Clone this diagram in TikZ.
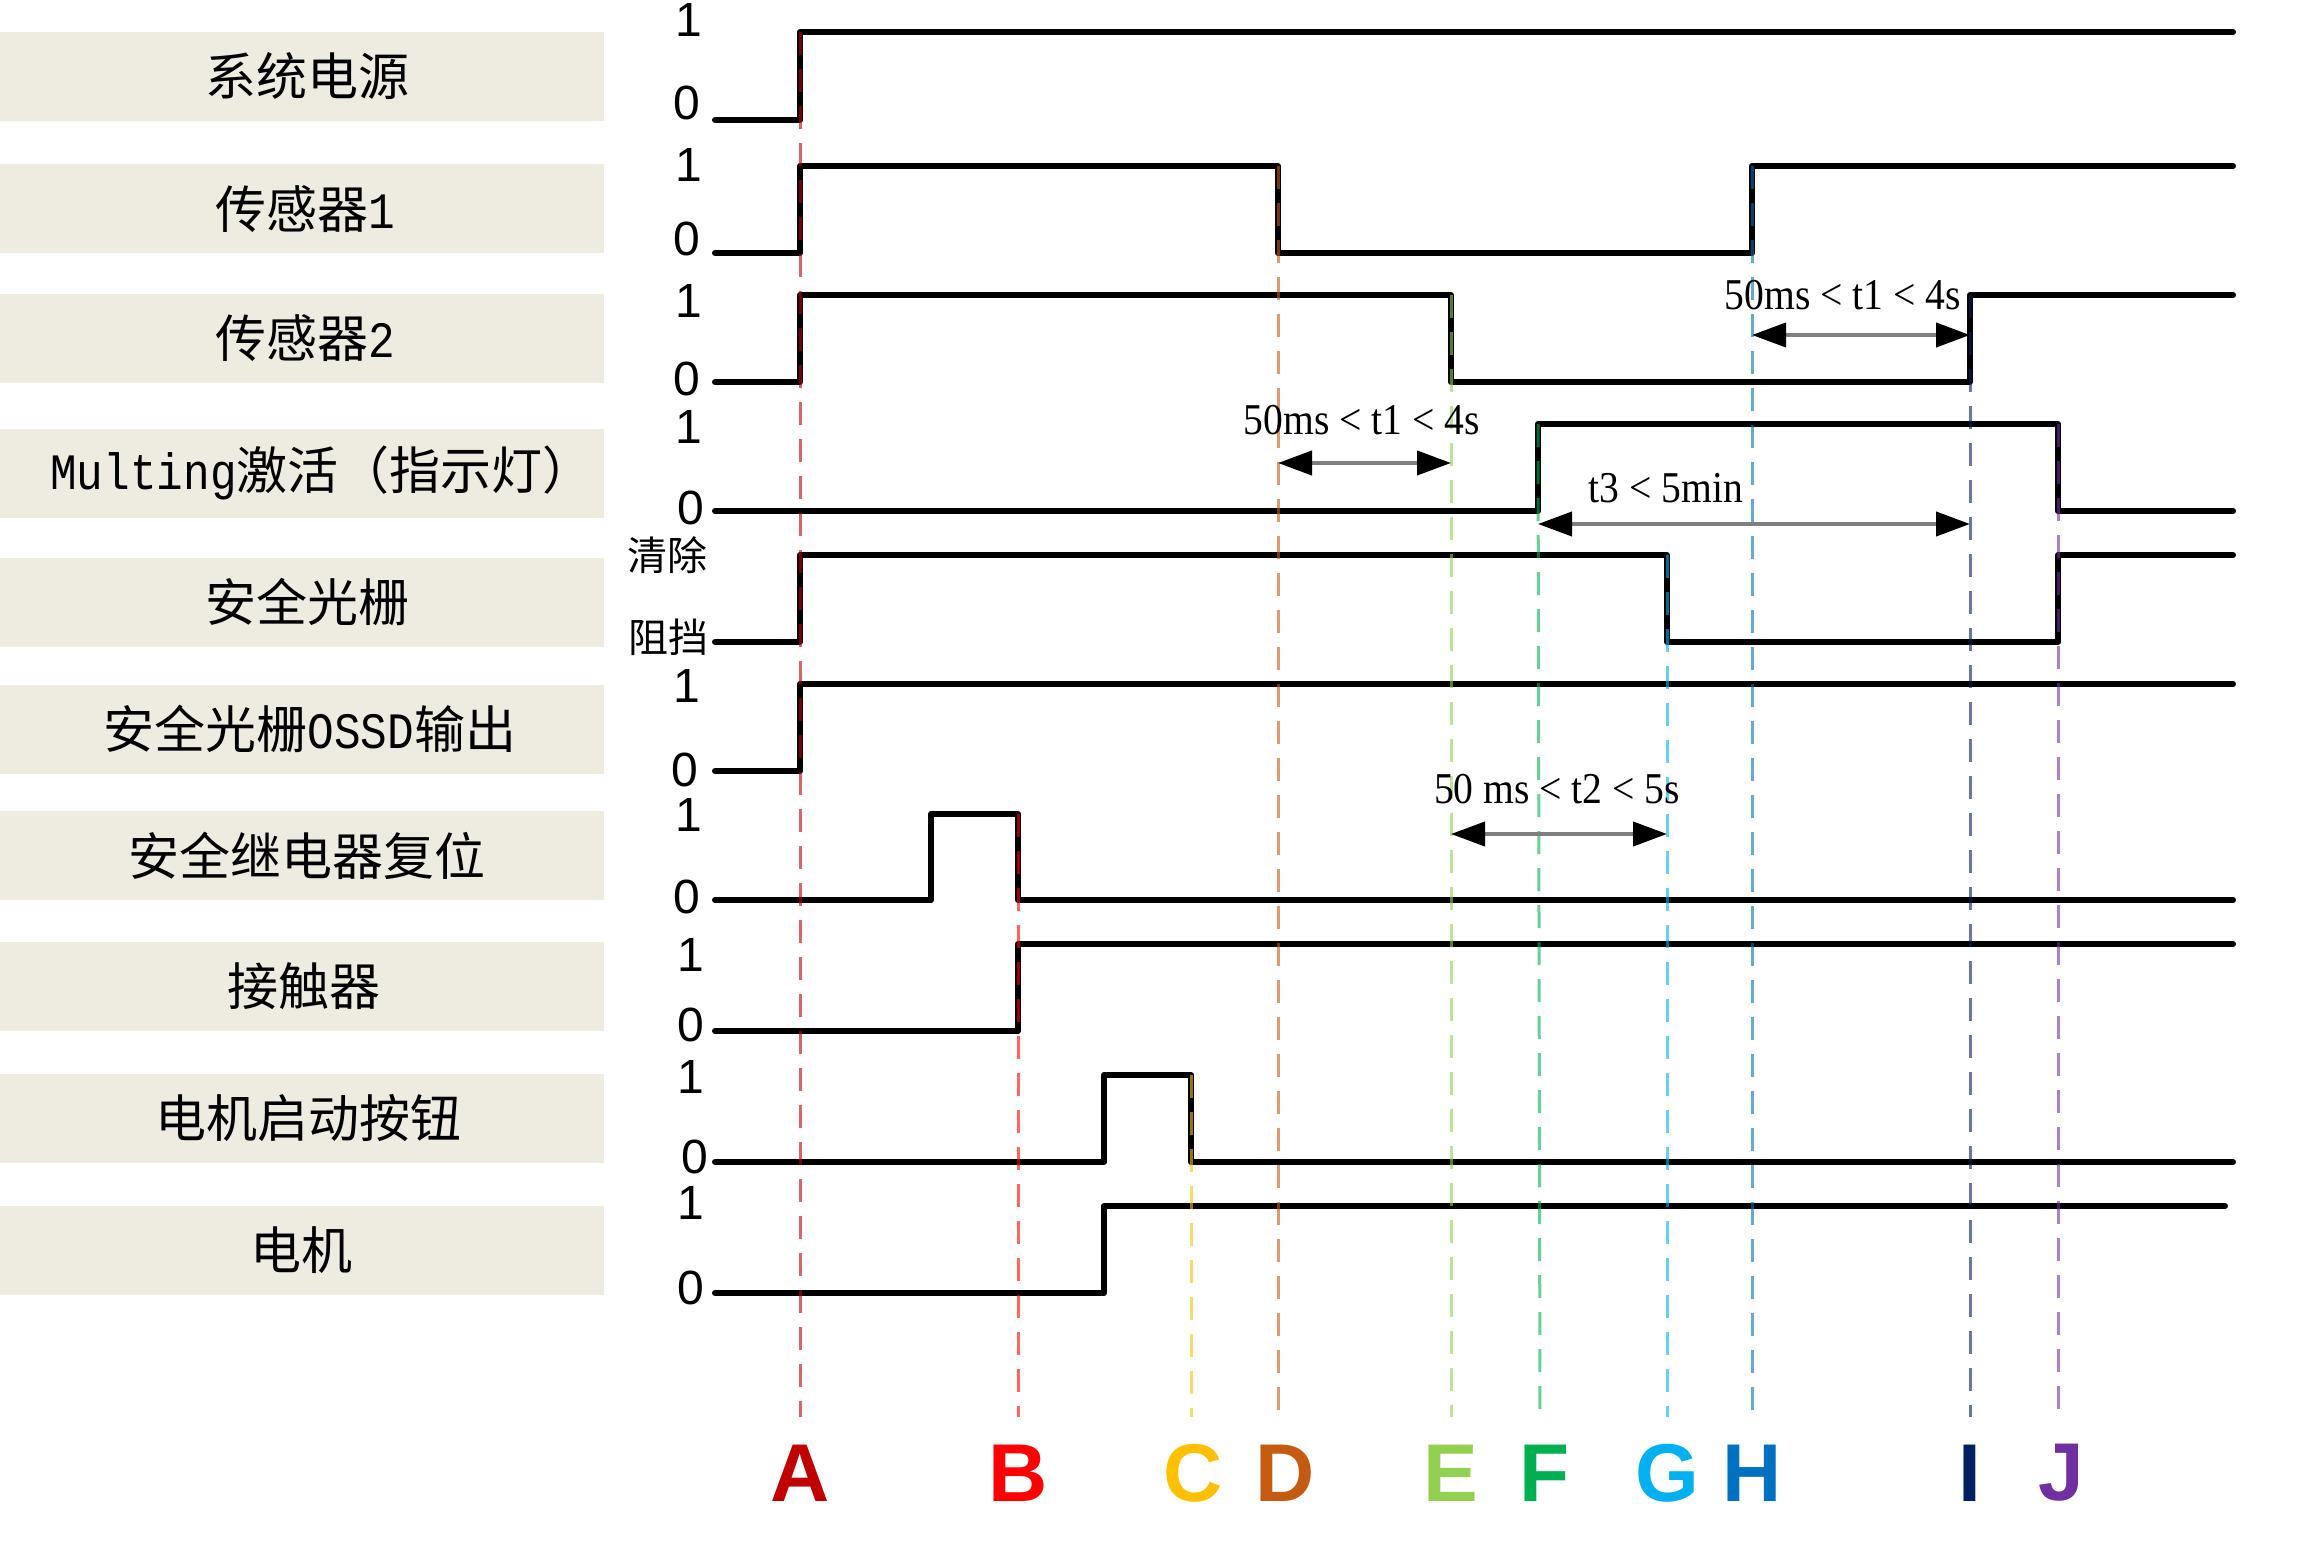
\documentclass[tikz,border=0pt]{standalone}
\usepackage{fontspec}
\usetikzlibrary{arrows.meta}
\newfontfamily\cjkfont{Noto Sans CJK SC}
\newfontfamily\latmono[FakeStretch=0.87]{Liberation Mono}
\newfontfamily\levelfont{Liberation Sans}
\newfontfamily\timefont[FakeStretch=0.9]{Liberation Serif}
\definecolor{boxfill}{HTML}{EEECE1}
\definecolor{cA}{HTML}{C00000}
\definecolor{cB}{HTML}{FF0000}
\definecolor{cC}{HTML}{FFC000}
\definecolor{cD}{HTML}{C55A11}
\definecolor{cE}{HTML}{92D050}
\definecolor{cF}{HTML}{00B050}
\definecolor{cG}{HTML}{00B0F0}
\definecolor{cH}{HTML}{0070C0}
\definecolor{cI}{HTML}{002060}
\definecolor{cJ}{HTML}{7030A0}
\definecolor{shaft}{HTML}{7F7F7F}
\begin{document}
\begin{tikzpicture}[x=1pt,y=-1pt,
  rowbox/.style={fill=boxfill,draw=none,minimum width=604pt,minimum height=89pt,inner sep=0pt},
  rowtext/.style={inner sep=0pt,font=\cjkfont\fontsize{51}{51}\selectfont},
  lvl/.style={font=\levelfont\fontsize{48}{48}\selectfont,inner sep=0pt},
  lvlcjk/.style={font=\cjkfont\fontsize{40}{40}\selectfont,inner sep=0pt},
  wave/.style={line width=6pt,line cap=round,line join=round,black},
  guide/.style={line width=3pt,dash pattern=on 23pt off 14pt,opacity=0.6},
  evlabel/.style={font=\levelfont\bfseries\fontsize{82}{82}\selectfont,inner sep=0pt},
  dim/.style={line width=4pt,shaft,{Triangle[length=34pt,width=24pt,black]}-{Triangle[length=34pt,width=24pt,black]}},
  timelabel/.style={font=\timefont\fontsize{44}{44}\selectfont,inner sep=0pt}
]
\useasboundingbox (0,0) rectangle (2303,1565);

% label boxes
\node[rowbox] (B1) at (302,76.5) {};
\node[rowbox] (B2) at (302,209) {};
\node[rowbox] (B3) at (302,338.5) {};
\node[rowbox] (B4) at (302,473) {};
\node[rowbox] (B5) at (302,602) {};
\node[rowbox] (B6) at (302,729) {};
\node[rowbox] (B7) at (302,855.5) {};
\node[rowbox] (B8) at (302,986) {};
\node[rowbox] (B9) at (302,1118) {};
\node[rowbox] (B10) at (302,1250.5) {};
\node[rowtext] (L1) at (307,76.5) {系统电源};
\node[rowtext] (L2) at (305,209) {传感器{\latmono 1}};
\node[rowtext] (L3) at (305,338.5) {传感器{\latmono 2}};
\node[rowtext] (L4) at (322,473) {{\latmono Multing}激活（指示灯）};
\node[rowtext] (L5) at (307,602) {安全光栅};
\node[rowtext] (L6) at (310,729) {安全光栅{\latmono OSSD}输出};
\node[rowtext] (L7) at (307,855.5) {安全继电器复位};
\node[rowtext] (L8) at (304,986) {接触器};
\node[rowtext] (L9) at (308,1118) {电机启动按钮};
\node[rowtext] (L10) at (301,1250.5) {电机};

% level labels
\node[lvl] (h1) at (689,20) {1};   \node[lvl] (z1) at (687,103) {0};
\node[lvl] (h2) at (689,165) {1};  \node[lvl] (z2) at (687,239) {0};
\node[lvl] (h3) at (689,301) {1};  \node[lvl] (z3) at (687,379) {0};
\node[lvl] (h4) at (689,427) {1};  \node[lvl] (z4) at (691,508) {0};
\node[lvlcjk] (h5) at (667,555) {清除}; \node[lvlcjk] (z5) at (668,637) {阻挡};
\node[lvl] (h6) at (687,686) {1};  \node[lvl] (z6) at (685,770) {0};
\node[lvl] (h7) at (689,815) {1};  \node[lvl] (z7) at (687,897) {0};
\node[lvl] (h8) at (691,955) {1};  \node[lvl] (z8) at (691,1025) {0};
\node[lvl] (h9) at (691,1077) {1}; \node[lvl] (z9) at (695,1157) {0};
\node[lvl] (h10) at (691,1203) {1};\node[lvl] (z10) at (691,1288) {0};

% waveforms
\draw[wave] (715,120) -- (800,120) -- (800,32) -- (2233,32);
\draw[wave] (715,253) -- (800,253) -- (800,166) -- (1278,166) -- (1278,253) -- (1752,253) -- (1752,166) -- (2233,166);
\draw[wave] (715,382) -- (800,382) -- (800,295) -- (1451,295) -- (1451,382) -- (1970,382) -- (1970,295) -- (2233,295);
\draw[wave] (715,511) -- (1538,511) -- (1538,424) -- (2058,424) -- (2058,511) -- (2233,511);
\draw[wave] (715,642) -- (800,642) -- (800,555) -- (1667,555) -- (1667,642) -- (2058,642) -- (2058,555) -- (2233,555);
\draw[wave] (715,771) -- (800,771) -- (800,684) -- (2233,684);
\draw[wave] (715,900) -- (931,900) -- (931,814) -- (1018,814) -- (1018,900) -- (2233,900);
\draw[wave] (715,1031) -- (1018,1031) -- (1018,944) -- (2233,944);
\draw[wave] (715,1162) -- (1104,1162) -- (1104,1075) -- (1191,1075) -- (1191,1162) -- (2233,1162);
\draw[wave] (715,1293) -- (1104,1293) -- (1104,1206) -- (2225,1206);

% event letters
\node[evlabel,text=cA] (eA) at (800,1473) {A};
\node[evlabel,text=cB] (eB) at (1018,1473) {B};
\node[evlabel,text=cC] (eC) at (1193,1473) {C};
\node[evlabel,text=cD] (eD) at (1285,1473) {D};
\node[evlabel,text=cE] (eE) at (1451,1473) {E};
\node[evlabel,text=cF] (eF) at (1545,1473) {F};
\node[evlabel,text=cG] (eG) at (1667,1473) {G};
\node[evlabel,text=cH] (eH) at (1752,1473) {H};
\node[evlabel,text=cI] (eI) at (1970,1473) {I};
\node[evlabel,text=cJ] (eJ) at (2061,1473) {J};

% guide lines
\draw[guide,cA] (800,32) -- (800,1417);
\draw[guide,cB] (1018,814) -- (1018,1417);
\draw[guide,cC] (1191,1075) -- (1191,1417);
\draw[guide,cD] (1278,166) -- (1278,1417);
\draw[guide,cE] (1451,295) -- (1451,1417);
\draw[guide,cF] (1538,424) -- (1540,1417);
\draw[guide,cG] (1667,555) -- (1667,1417);
\draw[guide,cH] (1752,166) -- (1752,1417);
\draw[guide,cI] (1970,295) -- (1970,1417);
\draw[guide,cJ] (2058,424) -- (2058,1417);

% timing dimensions
\coordinate (d1a) at (1278,463); \coordinate (d1b) at (1451,463);
\draw[dim] (d1a) -- (d1b);
\node[timelabel] (t1a) at (1362,420) {50ms < t1 < 4s};
\coordinate (d3a) at (1538,524); \coordinate (d3b) at (1970,524);
\draw[dim] (d3a) -- (d3b);
\node[timelabel] (t3) at (1666,488) {t3 < 5min};
\coordinate (d2a) at (1752,335); \coordinate (d2b) at (1970,335);
\draw[dim] (d2a) -- (d2b);
\node[timelabel] (t1b) at (1843,295) {50ms < t1 < 4s};
\coordinate (d4a) at (1451,834); \coordinate (d4b) at (1667,834);
\draw[dim] (d4a) -- (d4b);
\node[timelabel] (t2) at (1557,789) {50 ms < t2 < 5s};
\end{tikzpicture}
\end{document}
